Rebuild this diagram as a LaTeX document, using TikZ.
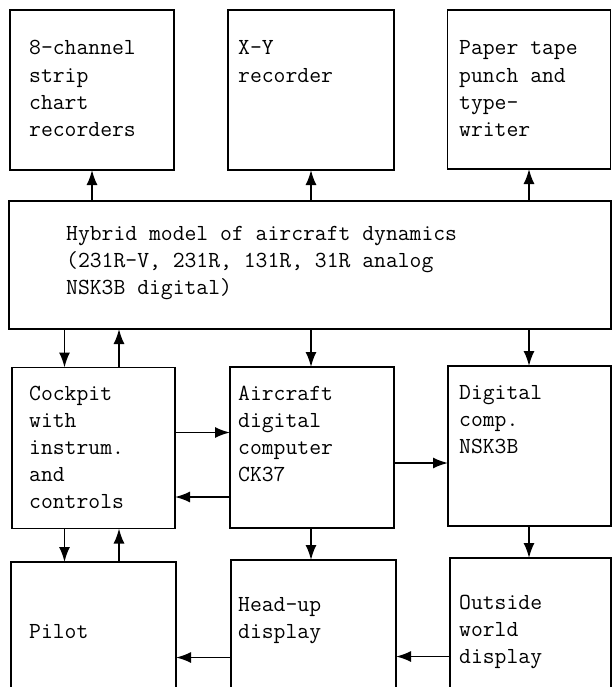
\documentclass[tikz,border=0pt]{standalone}
\usetikzlibrary{arrows.meta}
\begin{document}
\begin{tikzpicture}[x=1pt,y=-1pt,
  boxline/.style={line width=1.8pt},
  conn/.style={line width=1.7pt,-{Latex[length=15pt,width=11pt]}},
  txt/.style={anchor=base west,inner sep=0pt,
    font=\fontsize{23}{27.2}\selectfont\ttfamily},
  area/.style={inner sep=0pt,outer sep=0pt}]
\useasboundingbox (0,0) rectangle (613,687);
% top row
\node[area,boxline,draw] (e8) at (92,90) [minimum width=164pt,minimum height=160pt] {};
\node[area,boxline,draw] (xy) at (311,90) [minimum width=166pt,minimum height=160pt] {};
\node[area,boxline,draw] (tape) at (529,89.5) [minimum width=163pt,minimum height=159pt] {};
% hybrid
\node[area,boxline,draw] (hyb) at (310,265) [minimum width=602pt,minimum height=128pt] {};
% middle row
\node[area,boxline,draw] (cock) at (93.5,448) [minimum width=163pt,minimum height=161pt] {};
\node[area,boxline,draw] (acc) at (312,447.5) [minimum width=164pt,minimum height=161pt] {};
\node[area,boxline,draw] (dig) at (529.5,446) [minimum width=163pt,minimum height=160pt] {};
% bottom row (open at the bottom)
\node[area] (pilot) at (93.5,626) [minimum width=165pt,minimum height=128pt] {};
\node[area] (hud) at (313.5,625) [minimum width=165pt,minimum height=130pt] {};
\node[area] (out) at (530.5,624) [minimum width=161pt,minimum height=132pt] {};
\foreach \b in {pilot,hud,out}
  \draw[boxline] (\b.south west) |- (\b.north east) -- (\b.south east);
% texts
\node[txt] (t1) at (29,55) {\vtop{\hbox{8-channel}\hbox{strip}\hbox{chart}\hbox{recorders}}};
\node[txt] (t2) at (238,55) {\vtop{\hbox{X-Y}\hbox{recorder}}};
\node[txt] (t3) at (459,55) {\vtop{\hbox{Paper tape}\hbox{punch and}\hbox{type-}\hbox{writer}}};
\node[txt] (t4) at (66,240) {\vtop{\hbox{Hybrid model of aircraft dynamics}\hbox{(231R-V, 231R, 131R, 31R analog}\hbox{NSK3B digital)}}};
\node[txt] (t5) at (29,400) {\vtop{\hbox{Cockpit}\hbox{with}\hbox{instrum.}\hbox{and}\hbox{controls}}};
\node[txt] (t6) at (238,400) {\vtop{\hbox{Aircraft}\hbox{digital}\hbox{computer}\hbox{CK37}}};
\node[txt] (t7) at (459,399) {\vtop{\hbox{Digital}\hbox{comp.}\hbox{NSK3B}}};
\node[txt] (t8) at (29,638) {Pilot};
\node[txt] (t9) at (238,611) {\vtop{\hbox{Head-up}\hbox{display}}};
\node[txt] (t10) at (459,609) {\vtop{\hbox{Outside}\hbox{world}\hbox{display}}};
% connectors
\draw[conn] (hyb.north -| e8) -- (e8.south);
\draw[conn] (hyb.north -| xy) -- (xy.south);
\draw[conn] (hyb.north -| tape) -- (tape.south);
\draw[conn] ([xshift=-29pt]hyb.south -| cock) -- ([xshift=-29pt]cock.north);
\draw[conn] ([xshift=25.5pt]cock.north) -- ([xshift=25.5pt]hyb.south -| cock);
\draw[conn] (hyb.south -| xy) -- (acc.north -| xy);
\draw[conn] (hyb.south -| tape) -- (dig.north -| tape);
\draw[conn] (cock.east |- 0,432.5) -- (acc.west |- 0,432.5);
\draw[conn] (acc.west |- 0,497) -- (cock.east |- 0,497);
\draw[conn] (acc.east |- 0,463) -- (dig.west |- 0,463);
\draw[conn] ([xshift=-29pt]cock.south) -- ([xshift=-29pt]pilot.north);
\draw[conn] ([xshift=25.5pt]pilot.north) -- ([xshift=25.5pt]cock.south);
\draw[conn] (acc.south -| xy) -- (hud.north -| xy);
\draw[conn] (dig.south -| tape) -- (out.north -| tape);
\draw[conn] (hud.west |- 0,657.5) -- (pilot.east |- 0,657.5);
\draw[conn] (out.west |- 0,656.5) -- (hud.east |- 0,656.5);
\end{tikzpicture}
\end{document}
